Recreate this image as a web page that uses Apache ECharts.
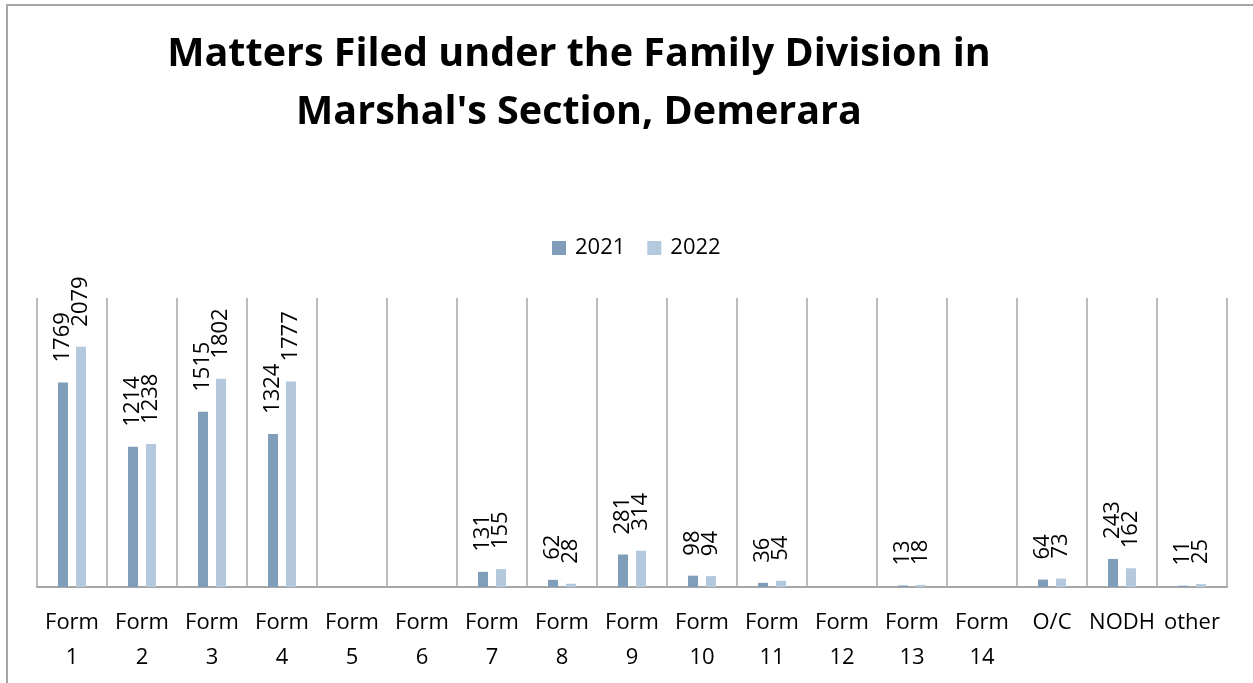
<!DOCTYPE html>
<html>
	<head>
		<meta charset="UTF-8">
		<title>Matters Filed under the Family Division</title>
		<script type="text/javascript" src="https://cdn.jsdelivr.net/npm/echarts@6/dist/echarts.min.js"></script>
		<style>
			body { margin: 0; background: #fff; }
			#frame { position: absolute; left: 6px; top: 4px; width: 1260px; height: 700px;
				border-top: 2px solid #A6A6A6; border-left: 2px solid #A6A6A6; }
			#chart { position: absolute; left: 0; top: 0; width: 1253px; height: 683px; }
		</style>
	</head>
	<script>
		var categories = ["Form\n1", "Form\n2", "Form\n3", "Form\n4", "Form\n5", "Form\n6", "Form\n7",
			"Form\n8", "Form\n9", "Form\n10", "Form\n11", "Form\n12", "Form\n13", "Form\n14",
			"O/C", "NODH", "other"];
		var values2021 = [1769, 1214, 1515, 1324, null, null, 131, 62, 281, 98, 36, null, 13, null, 64, 243, 11];
		var values2022 = [2079, 1238, 1802, 1777, null, null, 155, 28, 314, 94, 54, null, 18, null, 73, 162, 25];

		var fontName = "'Open Sans', sans-serif";

		function barLabel() {
			return {
				show: true,
				position: "top",
				rotate: 90,
				align: "left",
				verticalAlign: "middle",
				distance: 17,
				offset: [3, 0],
				fontSize: 22,
				fontFamily: fontName,
				color: "#000"
			};
		}

		var option = {
			animation: false,
			title: {
				text: "Matters Filed under the Family Division in\nMarshal's Section, Demerara",
				left: 574,
				top: 21,
				textAlign: "center",
				textStyle: {
					fontSize: 39.5,
					fontWeight: "bold",
					fontFamily: fontName,
					lineHeight: 58,
					color: "#000"
				}
			},
			legend: {
				data: ["2021", "2022"],
				left: 547,
				top: 232,
				icon: "rect",
				itemWidth: 14,
				itemHeight: 14,
				itemGap: 22,
				textStyle: { fontSize: 22, fontFamily: fontName, color: "#000", padding: [0, 0, 0, 4] }
			},
			grid: { left: 37, right: 26, top: 298, bottom: 96 },
			xAxis: {
				type: "category",
				data: categories,
				axisTick: { show: false },
				axisLine: { lineStyle: { color: "#A6A6A6", width: 2 } },
				splitLine: { show: true, lineStyle: { color: "#A6A6A6", width: 1.5 } },
				axisLabel: {
					interval: 0,
					margin: 18,
					fontSize: 22,
					lineHeight: 35,
					fontFamily: fontName,
					color: "#000"
				}
			},
			yAxis: {
				type: "value",
				min: 0,
				max: 2500,
				show: false,
				splitLine: { show: false }
			},
			series: [
				{
					name: "2021",
					type: "bar",
					data: values2021,
					barWidth: 10,
					barGap: "80%",
					itemStyle: { color: "#809EB9" },
					label: barLabel()
				},
				{
					name: "2022",
					type: "bar",
					data: values2022,
					barWidth: 10,
					itemStyle: { color: "#B4C8DE" },
					label: barLabel()
				}
			]
		};

		window.onload = function() {
			var chart = echarts.init(document.getElementById("chart"));
			chart.setOption(option);
		};
	</script>
	<body>
		<div id="frame"></div>
		<div id="chart"></div>
	</body>
</html>
